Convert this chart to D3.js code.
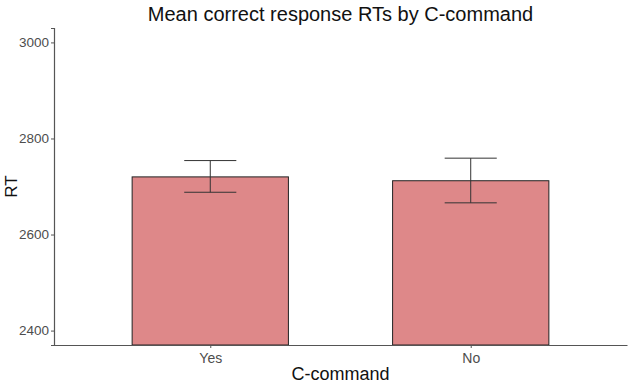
<!DOCTYPE html>
<html>
<head>
<meta charset="utf-8">
<script src="https://cdn.jsdelivr.net/npm/d3@7"></script>
<style>
  body { margin: 0; background: #fff; }
  text { font-family: "Liberation Sans", Arial, sans-serif; }
</style>
</head>
<body>
<div id="chart"></div>
<script>
// data
const categories = ["Yes", "No"];
const meanRT = [2720, 2712];
const errLow = [2688, 2666];
const errHigh = [2754, 2759];
const yTicks = [2400, 2600, 2800, 3000];

const width = 630, height = 385;
const margin = { top: 28, right: 3, bottom: 40, left: 54 };

const svg = d3.select("#chart")
    .append("svg")
    .attr("width", width)
    .attr("height", height);

// ggplot style: ylim 2400..3000 with 5% expansion
const yLo = 2400, yHi = 3000, pad = (yHi - yLo) * 0.05;
const y = d3.scaleLinear()
    .domain([yLo - pad, yHi + pad])
    .range([height - margin.bottom, margin.top]);

// discrete x with 0.6 unit expansion on each side
const x = d3.scaleLinear()
    .domain([0.4, categories.length + 0.6])
    .range([margin.left, width - margin.right]);

const barW = 0.6, capW = 0.2;

const data = categories.map((c, i) => ({
    cat: c, pos: i + 1, mean: meanRT[i], lo: errLow[i], hi: errHigh[i]
}));

// bars
svg.selectAll("rect.bar")
    .data(data)
    .join("rect")
    .attr("class", "bar")
    .attr("x", d => x(d.pos - barW / 2))
    .attr("width", d => x(d.pos + barW / 2) - x(d.pos - barW / 2))
    .attr("y", d => y(d.mean))
    .attr("height", d => y(yLo - pad) - y(d.mean))
    .attr("fill", "#de8889")
    .attr("stroke", "#222")
    .attr("stroke-width", 1);

// error bars
const eb = svg.selectAll("g.err")
    .data(data)
    .join("g")
    .attr("class", "err")
    .attr("stroke", "#333")
    .attr("stroke-width", 1);

eb.append("line")
    .attr("x1", d => x(d.pos)).attr("x2", d => x(d.pos))
    .attr("y1", d => y(d.lo)).attr("y2", d => y(d.hi));
eb.append("line")
    .attr("x1", d => x(d.pos - capW / 2)).attr("x2", d => x(d.pos + capW / 2))
    .attr("y1", d => y(d.hi)).attr("y2", d => y(d.hi));
eb.append("line")
    .attr("x1", d => x(d.pos - capW / 2)).attr("x2", d => x(d.pos + capW / 2))
    .attr("y1", d => y(d.lo)).attr("y2", d => y(d.lo));

// y axis
const yAxis = svg.append("g")
    .attr("transform", `translate(${margin.left},0)`)
    .call(d3.axisLeft(y).tickValues(yTicks).tickSize(3).tickPadding(2).tickFormat(d3.format("d")));
yAxis.select(".domain").attr("stroke", "#555").attr("stroke-width", 1.2);
yAxis.selectAll(".tick line").attr("stroke", "#555");
yAxis.selectAll(".tick text").attr("fill", "#4d4d4d").style("font-size", "13.5px");

// x axis
const xAxis = svg.append("g")
    .attr("transform", `translate(0,${height - margin.bottom})`)
    .call(d3.axisBottom(x).tickValues(data.map(d => d.pos))
        .tickFormat((d, i) => categories[i]).tickSize(3).tickPadding(5).tickSizeOuter(0));
xAxis.select(".domain").attr("stroke", "#555").attr("stroke-width", 1.2);
xAxis.selectAll(".tick line").attr("stroke", "#555");
xAxis.selectAll(".tick text").attr("fill", "#4d4d4d").style("font-size", "14px");

// titles
svg.append("text")
    .attr("x", (margin.left + width - margin.right) / 2)
    .attr("y", 21)
    .attr("text-anchor", "middle")
    .style("font-size", "20px")
    .attr("fill", "#111")
    .text("Mean correct response RTs by C-command");

svg.append("text")
    .attr("x", (margin.left + width - margin.right) / 2)
    .attr("y", 380)
    .attr("text-anchor", "middle")
    .style("font-size", "18px")
    .attr("fill", "#111")
    .text("C-command");

svg.append("text")
    .attr("transform", `translate(17,${(margin.top + height - margin.bottom) / 2}) rotate(-90)`)
    .attr("text-anchor", "middle")
    .style("font-size", "17px")
    .attr("fill", "#111")
    .text("RT");
</script>
</body>
</html>
